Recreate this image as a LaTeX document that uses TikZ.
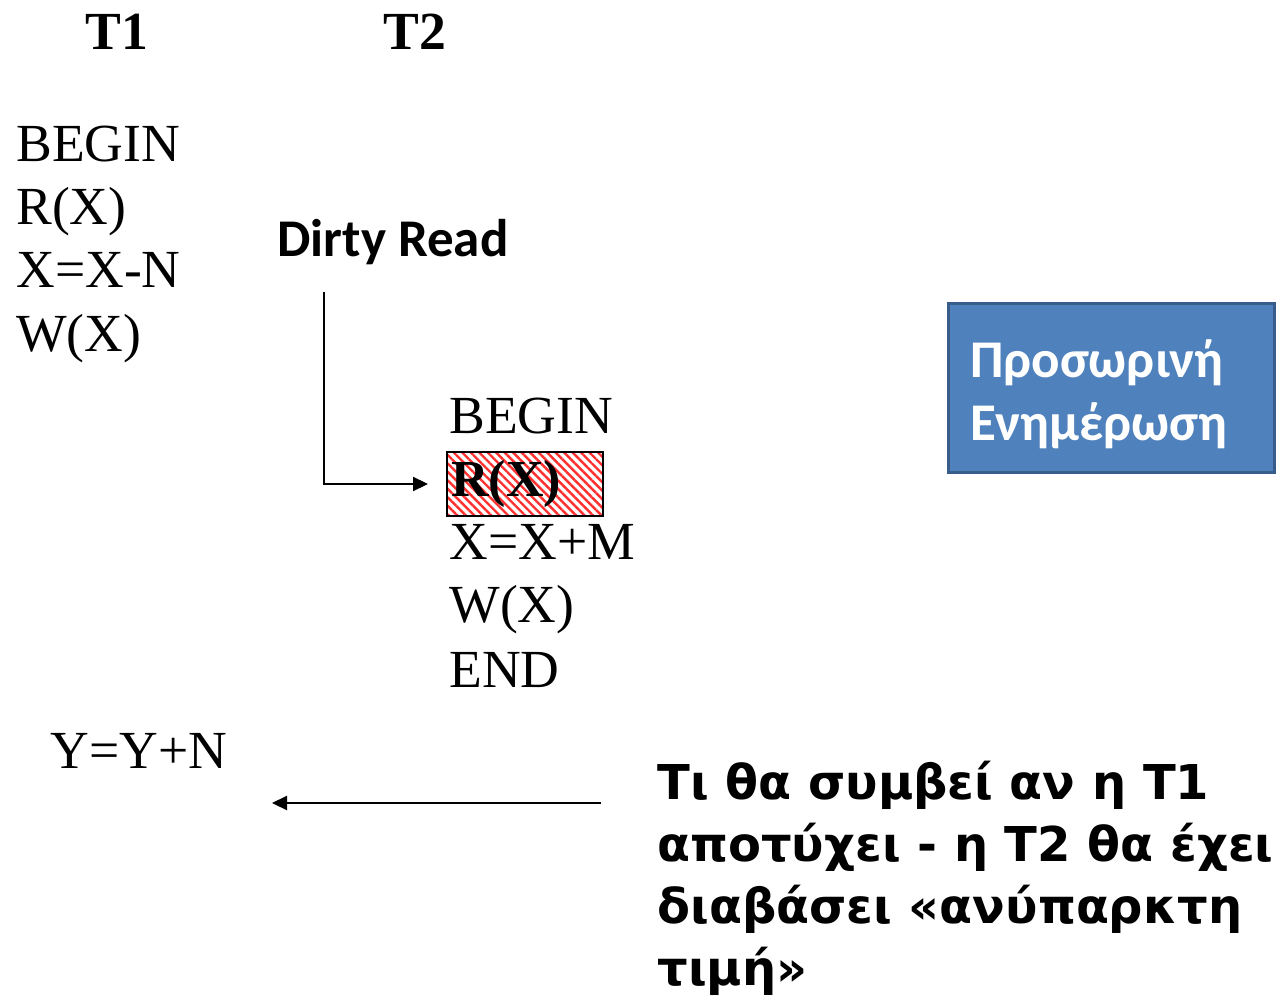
\documentclass[tikz,border=0pt]{standalone}
\usepackage{fontspec}
\setmainfont{Liberation Serif}
\newfontfamily\calibri{Carlito}
\newfontfamily\notefont{DejaVu Sans}
\usetikzlibrary{arrows.meta,patterns.meta}
\definecolor{boxblue}{HTML}{4F81BD}
\definecolor{boxedge}{HTML}{385D8A}
\definecolor{hatchred}{HTML}{FF3030}

\begin{document}
\begin{tikzpicture}[x=0.5pt,y=-0.5pt,
  txt/.style={anchor=base west,inner sep=0pt,font=\fontsize{26.8}{31.5}\selectfont},
  head/.style={txt,font=\fontsize{26.8}{31.5}\selectfont\bfseries},
  rxbox/.style={draw=black,line width=1pt,inner sep=0pt,
    minimum width=78pt,minimum height=32pt,text width=76pt,align=left,
    pattern={Lines[angle=-45,distance=3pt,line width=1.2pt]},pattern color=hatchred,
    font=\fontsize{26}{31.5}\selectfont\bfseries},
  bluebox/.style={fill=boxblue,draw=boxedge,line width=1.5pt,
    minimum width=163pt,minimum height=84pt,text width=141pt,align=left,
    inner xsep=11pt,text=white,font=\calibri\bfseries\fontsize{26.5}{31.5}\selectfont},
  note/.style={anchor=base west,inner sep=0pt,align=left,
    font=\notefont\bfseries\fontsize{24}{31}\selectfont},
  conn/.style={line width=1.1pt,-{Triangle[length=7.5pt,width=7pt]}}
]
\path[use as bounding box] (0,0) rectangle (1280,1000);

% transaction headers
\node[head] (t1) at (85,50) {T1};
\node[head] (t2) at (383,50) {T2};

% transaction T1
\node[txt] (a1) at (16,162) {BEGIN};
\node[txt] (a2) at (16,225) {R(X)};
\node[txt] (a3) at (16,288) {X=X-N};
\node[txt] (a4) at (16,351) {W(X)};
\node[txt] (a5) at (50,768) {Y=Y+N};

% transaction T2
\node[txt] (b1) at (449,433) {BEGIN};
\node[rxbox,anchor=west] (rx) at (446,484) {\hspace{1pt}R(X)};
\node[txt] (b3) at (449,559) {X=X+M};
\node[txt] (b4) at (449,622) {W(X)};
\node[txt] (b5) at (449,687) {END};

% labels
\node[anchor=base west,inner sep=0pt,font=\calibri\bfseries\fontsize{26.5}{31.5}\selectfont]
  (dirty) at (277,257) {Dirty Read};
\node[bluebox] (tmp) at (1111,388) {\rule{0pt}{25pt}Προσωρινή\\Ενημέρωση};
\node[note] (q) at (657,985) {Τι θα συμβεί αν η T1\\αποτύχει - η T2 θα έχει\\διαβάσει «ανύπαρκτη\\τιμή»};

% connectors
\coordinate (drop) at (324,292);
\draw[conn,shorten >=9pt] (drop) |- (rx.west);
\coordinate (qstart) at (601,803);
\coordinate (yend) at (272,803);
\draw[conn] (qstart) -- (yend);
\end{tikzpicture}
\end{document}
